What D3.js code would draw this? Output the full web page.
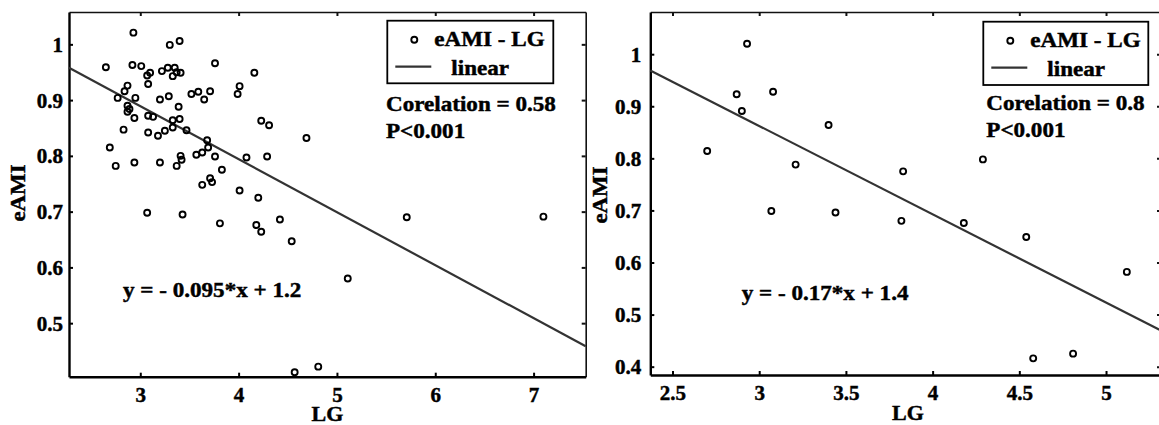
<!DOCTYPE html>
<html>
<head>
<meta charset="utf-8">
<script src="https://cdn.jsdelivr.net/npm/d3@7"></script>
<style>
  html, body { margin: 0; padding: 0; background: #fff; }
  svg { display: block; }
  text { font-family: "Liberation Serif", "Times New Roman", serif; font-weight: bold; fill: #000; stroke: #000; stroke-width: 0.45px; }
</style>
</head>
<body>
<svg id="chart" width="1159" height="425"></svg>
<script>

// left panel: all patients
const leftLG = [2.93, 3.30, 3.40, 2.65, 2.92, 3.01, 3.10, 3.07, 3.08, 3.22,
                3.28, 3.35, 3.33, 3.37, 3.41, 2.87, 2.84, 2.77, 2.95, 3.20,
                3.29, 2.87, 2.89, 2.87, 2.94, 3.39, 3.08, 3.13, 2.83, 3.08,
                3.18, 3.25, 3.33, 3.40, 3.33, 3.47, 3.68, 3.69, 2.69, 2.75,
                2.94, 3.20, 3.37, 3.41, 3.42, 3.57, 3.63, 3.76, 3.83, 3.71,
                3.63, 3.73, 3.76, 4.16, 4.01, 3.99, 3.52, 3.59, 3.65, 3.71,
                4.23, 4.31, 4.69, 4.08, 4.29, 4.01, 4.20, 3.07, 3.43, 3.81,
                4.18, 4.23, 4.42, 4.54, 5.71, 7.10, 5.11, 4.57, 4.81]
const leftAMI = [1.021, 0.999, 1.006, 0.959, 0.963, 0.961, 0.949, 0.944, 0.929, 0.952,
                 0.958, 0.958, 0.943, 0.950, 0.949, 0.926, 0.916, 0.904, 0.904, 0.901,
                 0.907, 0.890, 0.884, 0.879, 0.868, 0.888, 0.872, 0.870, 0.847, 0.842,
                 0.836, 0.845, 0.864, 0.866, 0.851, 0.846, 0.828, 0.815, 0.815, 0.782,
                 0.788, 0.788, 0.782, 0.800, 0.793, 0.802, 0.806, 0.799, 0.775, 0.760,
                 0.748, 0.753, 0.966, 0.949, 0.925, 0.911, 0.911, 0.915, 0.901, 0.916,
                 0.863, 0.855, 0.832, 0.797, 0.799, 0.738, 0.725, 0.698, 0.695, 0.679,
                 0.676, 0.664, 0.686, 0.647, 0.690, 0.691, 0.580, 0.412, 0.422]
const leftFit = [-0.095, 1.174]
const leftXTicks = [3, 4, 5, 6, 7]
const leftXLabels = ["3", "4", "5", "6", "7"]
const leftYTicks = [0.5, 0.6, 0.7, 0.8, 0.9, 1]
const leftYLabels = ["0.5", "0.6", "0.7", "0.8", "0.9", "1"]

// right panel: subgroup
const rightLG = [2.70, 2.93, 2.87, 2.90, 3.08, 3.21, 3.40, 3.07, 3.44, 3.83,
                 4.29, 3.82, 4.18, 4.54, 5.12, 4.58, 4.81]
const rightAMI = [0.814, 1.020, 0.923, 0.891, 0.928, 0.788, 0.864, 0.699, 0.696, 0.775,
                  0.798, 0.680, 0.676, 0.649, 0.582, 0.416, 0.425]
const rightFit = [-0.1696, 1.371]
const rightXTicks = [2.5, 3, 3.5, 4, 4.5, 5]
const rightXLabels = ["2.5", "3", "3.5", "4", "4.5", "5"]
const rightYTicks = [0.4, 0.5, 0.6, 0.7, 0.8, 0.9, 1]
const rightYLabels = ["0.4", "0.5", "0.6", "0.7", "0.8", "0.9", "1"]

const legendNames = ["eAMI - LG", "linear"]

const svg = d3.select("#chart")

// stretched bold serif text, like the original export
function label(g, x, y, txt, size, anchor, sx, rot) {
    return g.append("text")
        .attr("transform", `translate(${x},${y}) rotate(${rot || 0}) scale(${sx},1)`)
        .attr("text-anchor", anchor)
        .style("font-size", size + "px")
        .text(txt)
}

function panel(cfg) {

    var x = d3.scaleLinear().domain(cfg.xDomain).range([cfg.left, cfg.right])
    var y = d3.scaleLinear().domain(cfg.yDomain).range([cfg.bottom, cfg.top])

    var g = svg.append("g")

    // frame: top / right, ticks pointing inward
    var top = g.append("g").attr("transform", `translate(0,${cfg.top})`)
        .call(d3.axisTop(x).tickValues(cfg.xTicks).tickSizeInner(-4).tickSizeOuter(0).tickFormat(""))
    var rgt = g.append("g").attr("transform", `translate(${cfg.right},0)`)
        .call(d3.axisRight(y).tickValues(cfg.yTicks).tickSizeInner(-4).tickSizeOuter(0).tickFormat(""))
    ;[top, rgt].forEach(a => {
        a.select(".domain").attr("stroke", "#111").attr("stroke-width", 1.6)
        a.selectAll(".tick line").attr("stroke", "#111").attr("stroke-width", 2)
    })

    var xa = g.append("g").attr("transform", `translate(0,${cfg.bottom})`)
        .call(d3.axisBottom(x).tickValues(cfg.xTicks).tickSizeInner(-4).tickSizeOuter(0)
            .tickPadding(10).tickFormat((d, i) => cfg.xLabels[i]))
    var ya = g.append("g").attr("transform", `translate(${cfg.left},0)`)
        .call(d3.axisLeft(y).tickValues(cfg.yTicks).tickSizeInner(-4).tickSizeOuter(0)
            .tickPadding(cfg.yPad).tickFormat((d, i) => cfg.yLabels[i]))
    ;[xa, ya].forEach(a => {
        a.select(".domain").attr("stroke", "#000").attr("stroke-width", 2.4)
        a.selectAll(".tick line").attr("stroke", "#000").attr("stroke-width", 2)
        a.selectAll(".tick text")
            .attr("fill", "#000")
            .style("font-family", '"Liberation Serif", "Times New Roman", serif')
            .style("font-weight", "bold")
            .style("font-size", "21px")
    })
    ya.selectAll(".tick text").attr("dy", "0.33em")

    // regression line
    var xs = x.domain()
    g.append("line")
        .attr("x1", x(xs[0])).attr("y1", y(cfg.fit[0] * xs[0] + cfg.fit[1]))
        .attr("x2", x(xs[1])).attr("y2", y(cfg.fit[0] * xs[1] + cfg.fit[1]))
        .attr("stroke", "#333").attr("stroke-width", 2.2)

    // points
    g.append("g").selectAll("circle")
        .data(cfg.lg.map((v, i) => [v, cfg.ami[i]]))
        .join("circle")
        .attr("cx", d => x(d[0]))
        .attr("cy", d => y(d[1]))
        .attr("r", 3)
        .attr("fill", "none")
        .attr("stroke", "#000")
        .attr("stroke-width", 1.9)

    // axis titles
    label(g, cfg.xTitle[0], cfg.xTitle[1], "LG", 22, "middle", 1.0, 0)
    label(g, cfg.yTitle[0], cfg.yTitle[1], "eAMI", 22, "middle", 1.04, -90)

    // legend
    var L = cfg.legend
    g.append("rect")
        .attr("x", L.x).attr("y", L.y).attr("width", L.w).attr("height", L.h)
        .attr("fill", "#fff").attr("stroke", "#000").attr("stroke-width", 1.8)
    g.append("circle")
        .attr("cx", L.x + 27).attr("cy", L.y + 19).attr("r", 3)
        .attr("fill", "none").attr("stroke", "#000").attr("stroke-width", 1.9)
    label(g, L.x + 47, L.y + 25.5, legendNames[0], 21, "start", 1.1, 0)
    g.append("line")
        .attr("x1", L.x + 8).attr("x2", L.x + 44)
        .attr("y1", L.y + 46).attr("y2", L.y + 46)
        .attr("stroke", "#333").attr("stroke-width", 2.2)
    label(g, L.x + 64, L.y + 54, legendNames[1], 21, "start", 1.1, 0)

    // statistics
    label(g, cfg.stats[0], cfg.stats[1], cfg.corr, 21, "start", 1.1, 0)
    label(g, cfg.stats[0], cfg.stats[1] + 27, "P<0.001", 21, "start", 1.1, 0)
    label(g, cfg.eq[0], cfg.eq[1], cfg.eqText, 21, "start", 1.1, 0)
}

panel({
    lg: leftLG, ami: leftAMI, fit: leftFit,
    xDomain: [2.275, 7.53], yDomain: [0.404, 1.058],
    left: 69, right: 585.7, top: 12, bottom: 376.7,
    xTicks: leftXTicks, xLabels: leftXLabels, yTicks: leftYTicks, yLabels: leftYLabels,
    yPad: 6,
    xTitle: [327.5, 420.5], yTitle: [24.5, 193],
    legend: { x: 387.3, y: 20.7, w: 166, h: 62.6 },
    stats: [386, 111], corr: "Corelation = 0.58",
    eq: [123, 297], eqText: "y = - 0.095*x + 1.2"
})

panel({
    lg: rightLG, ami: rightAMI, fit: rightFit,
    xDomain: [2.372, 5.317], yDomain: [0.384, 1.081],
    left: 650.3, right: 1161, top: 12, bottom: 375,
    xTicks: rightXTicks, xLabels: rightXLabels, yTicks: rightYTicks, yLabels: rightYLabels,
    yPad: 9,
    xTitle: [908, 420], yTitle: [607, 195],
    legend: { x: 983.3, y: 21.7, w: 165, h: 63.3 },
    stats: [986.3, 110], corr: "Corelation = 0.8",
    eq: [741.7, 300], eqText: "y = - 0.17*x + 1.4"
})

</script>
</body>
</html>
